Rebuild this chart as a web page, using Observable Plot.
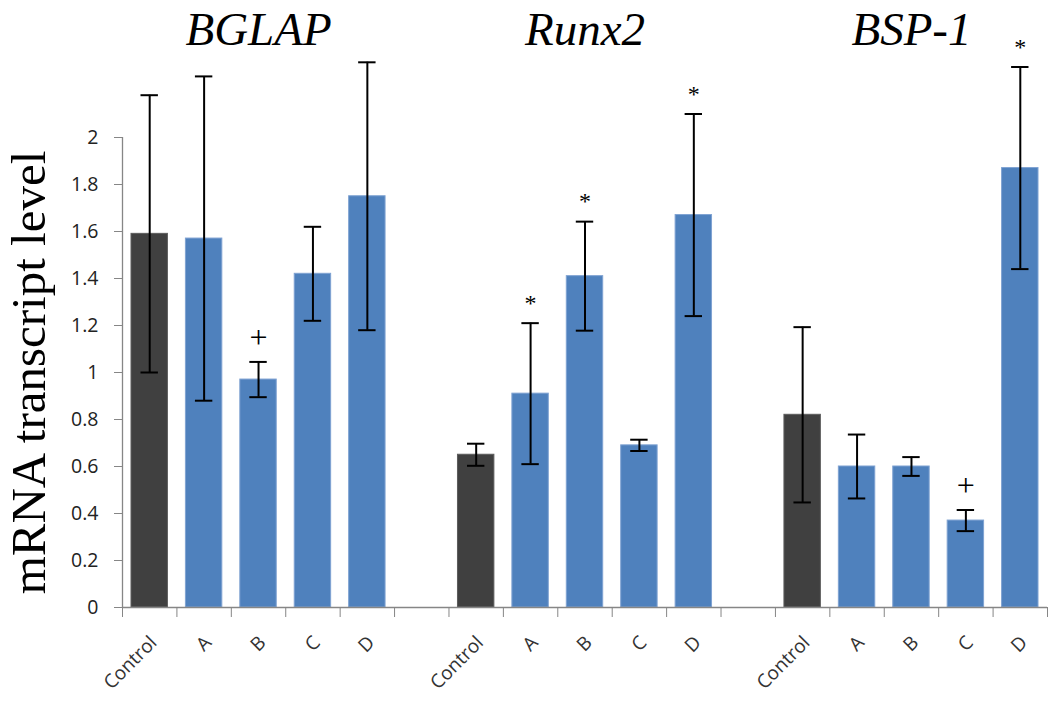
<!DOCTYPE html>
<html><head><meta charset="utf-8">
<script src="https://cdn.jsdelivr.net/npm/d3@7"></script>
<script src="https://cdn.jsdelivr.net/npm/@observablehq/plot@0.6"></script>
<style>body{margin:0;background:#fff} #chart svg{display:block}</style>
</head><body><div id="chart"></div>
<script>
const groups = ["BGLAP", "Runx2", "BSP-1"];
const categories = ["Control", "A", "B", "C", "D"];
const bglapValues = [1.59, 1.57, 0.97, 1.42, 1.75];
const bglapErrors = [0.59, 0.69, 0.075, 0.20, 0.57];
const bglapMarks = ["", "", "+", "", ""];
const runx2Values = [0.65, 0.91, 1.41, 0.69, 1.67];
const runx2Errors = [0.047, 0.30, 0.232, 0.024, 0.43];
const runx2Marks = ["", "*", "*", "", "*"];
const bsp1Values = [0.82, 0.60, 0.60, 0.37, 1.87];
const bsp1Errors = [0.373, 0.136, 0.04, 0.045, 0.43];
const bsp1Marks = ["", "", "", "+", "*"];
const yTicks = [0, 0.2, 0.4, 0.6, 0.8, 1, 1.2, 1.4, 1.6, 1.8, 2];
const yLabel = "mRNA transcript level";

const values = [bglapValues, runx2Values, bsp1Values];
const errors = [bglapErrors, runx2Errors, bsp1Errors];
const marks = [bglapMarks, runx2Marks, bsp1Marks];

const slot = categories.length + 1;
const nSlots = groups.length * slot - 1;
const rows = [];
groups.forEach((g, gi) => categories.forEach((c, ci) => rows.push({
  gene: g, cat: c, i: gi * slot + ci,
  value: values[gi][ci], err: errors[gi][ci], mark: marks[gi][ci]
})));
const titles = groups.map((g, gi) => ({gene: g, x: gi * slot + categories.length / 2}));
const yMid = (yTicks[0] + yTicks[yTicks.length - 1]) / 2;

const blue = "#4f81bd", dark = "#404040", axisGray = "#868686";
const sans = "'Open Sans', 'DejaVu Sans', sans-serif";
const serif = "'Liberation Serif', 'DejaVu Serif', serif";

const plot = Plot.plot({
  width: 1050, height: 704,
  marginLeft: 122, marginRight: 3, marginTop: 0, marginBottom: 97,
  x: {domain: [0, nSlots], axis: null},
  y: {domain: [0, 2.583], axis: null},
  style: {background: "white", overflow: "visible"},
  marks: [
    Plot.rectY(rows, {
      x1: "i", x2: d => d.i + 1, y: "value", insetLeft: 9, insetRight: 9,
      fill: d => d.cat === "Control" ? dark : blue,
      stroke: d => d.cat === "Control" ? "#5c5c5c" : "#7fa2d2", strokeWidth: 1
    }),
    Plot.ruleY([0], {stroke: axisGray, strokeWidth: 1.3}),
    Plot.ruleX([0], {y1: yTicks[0], y2: yTicks[yTicks.length - 1], stroke: axisGray, strokeWidth: 1.3}),
    Plot.axisY({ticks: yTicks, tickSize: 8, tickPadding: 16, tickFormat: d3.format("~g"),
      fontSize: 19.5, fontFamily: sans, stroke: axisGray, fill: "#222", label: null}),
    Plot.axisX({ticks: d3.range(nSlots + 1), tickSize: 10, tickFormat: () => "",
      stroke: axisGray, label: null}),
    Plot.text(rows, {x: d => d.i + 0.5, y: 0, text: "cat", rotate: -45, textAnchor: "end",
      dx: 4, dy: 32, fontSize: 19, fontFamily: sans, fill: "#333"}),
    Plot.ruleX(rows, {x: d => d.i + 0.5, y1: d => d.value - d.err, y2: d => d.value + d.err,
      stroke: "black", strokeWidth: 2}),
    Plot.ruleY(rows, {x1: "i", x2: d => d.i + 1, y: d => d.value + d.err,
      insetLeft: 18.5, insetRight: 18.5, stroke: "black", strokeWidth: 2}),
    Plot.ruleY(rows, {x1: "i", x2: d => d.i + 1, y: d => d.value - d.err,
      insetLeft: 18.5, insetRight: 18.5, stroke: "black", strokeWidth: 2}),
    Plot.text(rows.filter(d => d.mark === "+"), {x: d => d.i + 0.5, y: d => d.value + d.err,
      text: "mark", dy: -24, fontSize: 32, fontFamily: serif, fill: "black"}),
    Plot.text(rows.filter(d => d.mark === "*"), {x: d => d.i + 0.5, y: d => d.value + d.err,
      text: "mark", dy: -20, fontSize: 24, fontFamily: serif, fill: "black"}),
    Plot.text(titles, {x: "x", frameAnchor: "top", text: "gene", lineAnchor: "bottom", dy: 44,
      fontSize: 47, fontStyle: "italic", fontFamily: serif, fill: "black"}),
    Plot.text([yLabel], {frameAnchor: "left", y: () => yMid, text: d => d, rotate: -90,
      textAnchor: "middle", dx: -93, fontSize: 49, fontFamily: serif, fill: "black"})
  ]
});
document.getElementById("chart").appendChild(plot);
</script>
</body></html>
